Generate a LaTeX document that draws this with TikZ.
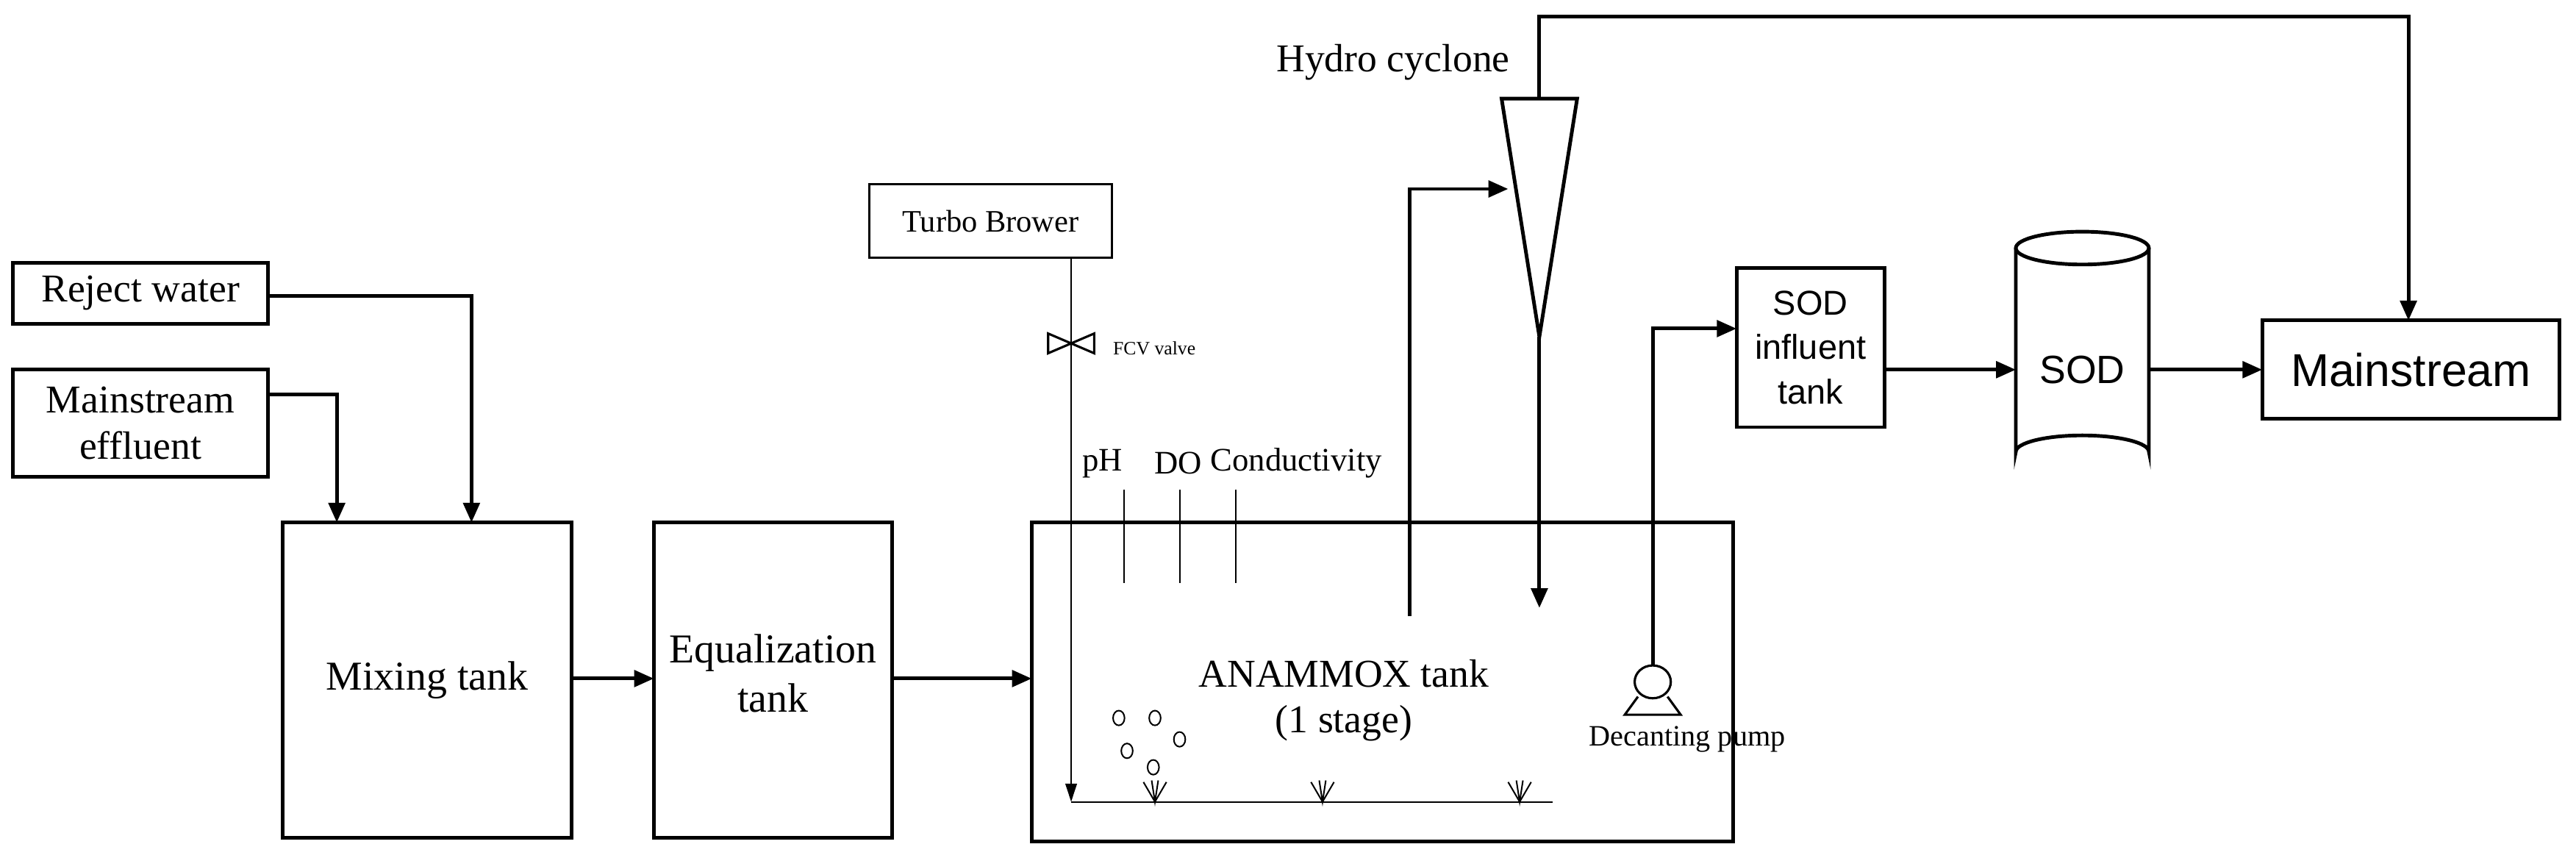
\documentclass[tikz,border=0pt]{standalone}
\usepackage{fontspec}
\setmainfont{Liberation Serif}
\newfontfamily\mysans{Liberation Sans}
\usetikzlibrary{arrows.meta}
\begin{document}
\begin{tikzpicture}[x=1pt,y=-1pt,
 box/.style={draw,line width=2.2pt,inner sep=0},
 fl/.style={line width=2.2pt,-{Triangle[length=12pt,width=10pt]}},
 th/.style={line width=0.9pt},
 lbl/.style={font=\fontsize{24}{28}\selectfont,align=center}]
\useasboundingbox (0,0) rectangle (1568,522);
% boxes
\draw[box] (8,160) rectangle (163,197);
\node[lbl] (rw) at (85.5,178.5) {Reject water};
\draw[box] (8,225) rectangle (163,290);
\node[lbl] (me) at (85.5,257.5) {Mainstream\\effluent};
\draw[box] (172,318) rectangle (348,510);
\node[lbl,font=\fontsize{25}{28}\selectfont] (mix) at (260,414) {Mixing tank};
\draw[box] (398,318) rectangle (543,510);
\node[lbl,font=\fontsize{25}{30}\selectfont] (eq) at (470.5,410) {Equalization\\tank};
\draw[box] (628,318) rectangle (1055,512);
\node[font=\fontsize{24}{26}\selectfont] (an) at (818,410) {ANAMMOX tank};
\node[font=\fontsize{24}{26}\selectfont] (st) at (818,440) {(1 stage)};
\draw[line width=1.4pt] (529,112) rectangle (677,157);
\node[font=\fontsize{19}{22}\selectfont] (tb) at (603,134.5) {Turbo Brower};
\draw[box] (1057,163) rectangle (1147,260);
\node[lbl,font=\mysans\fontsize{21}{27}\selectfont] (si) at (1102,211.5) {SOD\\influent\\tank};
\draw[box] (1377,195) rectangle (1558,255);
\node[font=\mysans\fontsize{28}{32}\selectfont] (ms) at (1467.5,225) {Mainstream};
% SOD cylinder
\draw[line width=2.2pt] (1227,151) -- (1227,275) arc[start angle=180,end angle=360,x radius=40.5,y radius=10] -- (1308,151);
\draw[line width=2.2pt] (1267.5,151) ellipse[x radius=40.5,y radius=10];
\node[font=\mysans\fontsize{24}{28}\selectfont] (sod) at (1267.5,225) {SOD};
% flows
\draw[fl] (163,180) -- (287,180) -- (287,318);
\draw[fl] (163,240) -- (205,240) -- (205,318);
\draw[fl] (348,413) -- (398,413);
\draw[fl] (543,413) -- (628,413);
% turbo blower line
\draw[th,-{Triangle[length=11pt,width=7pt]}] (652,157) -- (652,488);
\draw[th] (652,488) -- (945,488);
\draw[line width=1.4pt] (638,203) -- (638,215) -- (666,203) -- (666,215) -- cycle;
\node[anchor=west,font=\fontsize{11.5}{13}\selectfont] (fcv) at (674,212) {FCV valve};
\foreach \x in {703,805,925}{\draw[th] (\x-7,476) -- (\x,488) -- (\x+7,476); \draw[th] (\x-2,475)--(\x,488)--(\x+2,475);}
\foreach \p in {(681,437),(703,437),(686,457),(718,450),(702,467)} \draw[th] \p ellipse[x radius=3.5,y radius=4.5];
% sensors
\foreach \x in {684,718,752} \draw[th] (\x,298) -- (\x,355);
\node[font=\fontsize{20}{24}\selectfont] (ph) at (671,282) {pH};
\node[font=\fontsize{20}{24}\selectfont] (do) at (717,282) {DO};
\node[font=\fontsize{20}{24}\selectfont] (co) at (789,282) {Conductivity};
% cyclone
\draw[line width=2.2pt] (914,60) -- (960,60) -- (937,205) -- cycle;
\node[font=\fontsize{24}{28}\selectfont] (hc) at (848,38) {Hydro cyclone};
\draw[fl] (858,375) -- (858,115) -- (918,115);
\draw[fl] (937,205) -- (937,370);
\draw[fl] (937,60) -- (937,10) -- (1466,10) -- (1466,195);
% pump
\draw[line width=1.4pt] (1006,415) ellipse[x radius=11,y radius=10];
\draw[line width=1.4pt] (997,424) -- (989,435) -- (1023,435) -- (1015,424);
\node[font=\fontsize{18}{20}\selectfont] (dp) at (1027,450) {Decanting pump};
\draw[fl] (1006,405) -- (1006,200) -- (1057,200);
\draw[fl] (1147,225) -- (1227,225);
\draw[fl] (1308,225) -- (1377,225);
\end{tikzpicture}
\end{document}
